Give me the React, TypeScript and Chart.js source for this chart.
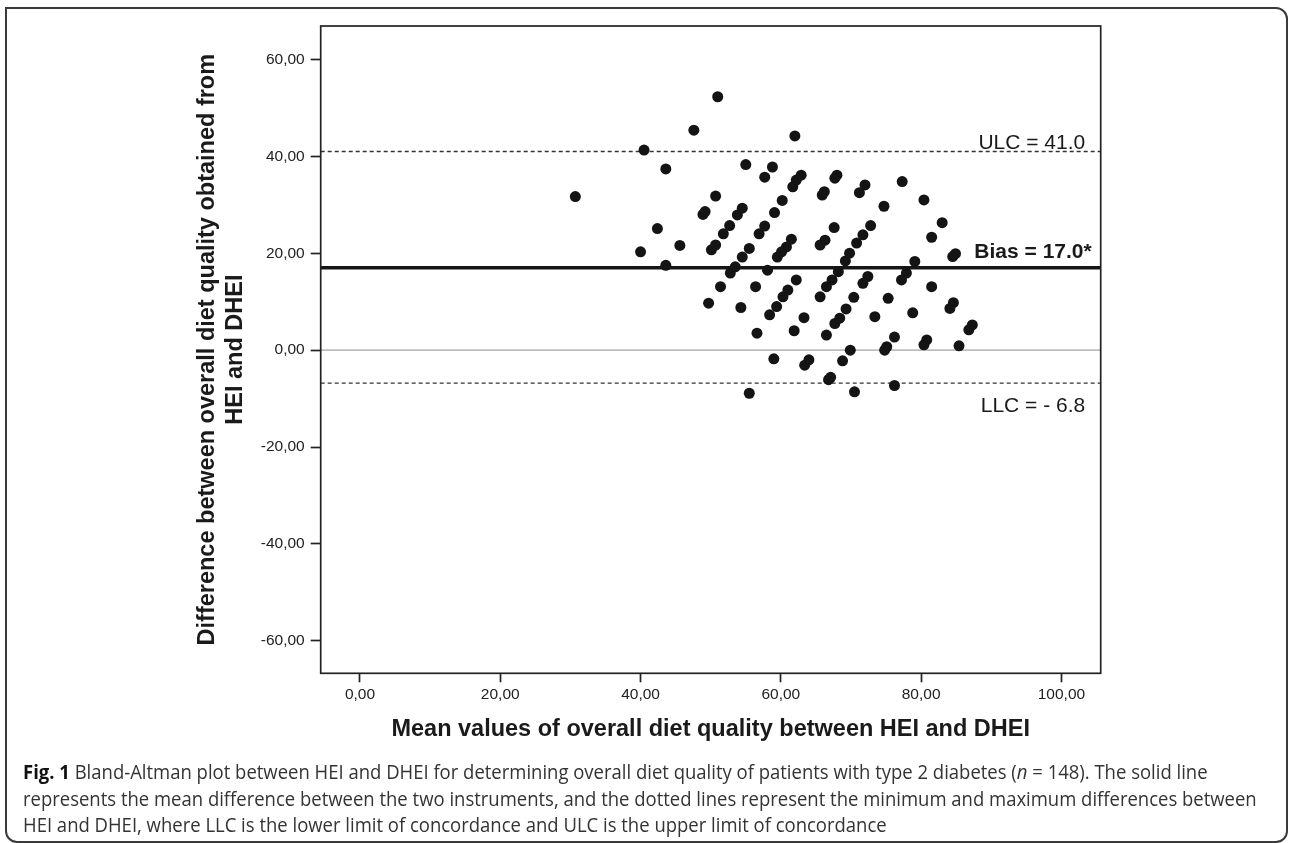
import React, { useEffect, useLayoutEffect, useRef } from "react";
import { Chart, registerables } from "chart.js";

Chart.register(...registerables);

// ---- Data ----
const meanValues: number[] = [
  30.7, 40.5, 51.0, 47.6, 43.6, 55.0, 58.8, 57.7, 50.7, 48.9,
  49.2, 42.4, 40.0, 45.6, 43.6, 50.1, 50.7, 51.8, 52.7, 53.8,
  54.5, 55.5, 56.9, 57.7, 59.1, 60.2, 52.8, 53.5, 54.5, 58.1,
  59.5, 60.1, 60.8, 61.5, 62.0, 62.9, 62.2, 61.7, 68.0, 67.7,
  65.9, 66.2, 72.0, 71.2, 77.3, 74.7, 80.4, 83.0, 81.5, 84.5,
  84.9, 79.1, 72.8, 71.7, 70.8, 69.8, 69.2, 67.6, 66.3, 65.6,
  51.4, 56.4, 49.7, 54.3, 60.3, 59.4, 58.4, 56.6, 59.0, 55.5,
  62.2, 61.0, 63.3, 61.9, 63.4, 64.0, 68.2, 67.3, 66.5, 65.6,
  70.4, 69.3, 68.4, 67.7, 66.5, 69.9, 68.8, 66.8, 67.1, 70.5,
  72.4, 71.7, 73.4, 75.3, 77.9, 77.2, 78.8, 81.5, 84.6, 84.1,
  87.3, 86.8, 76.2, 75.1, 74.8, 80.8, 80.4, 85.4, 76.2,
];
const differences: number[] = [
  31.7, 41.3, 52.3, 45.4, 37.4, 38.3, 37.8, 35.7, 31.8, 28.0,
  28.6, 25.1, 20.3, 21.6, 17.5, 20.7, 21.7, 24.0, 25.7, 27.9,
  29.3, 21.0, 24.0, 25.6, 28.4, 30.9, 15.9, 17.2, 19.2, 16.5,
  19.2, 20.3, 21.3, 22.9, 44.2, 36.1, 35.1, 33.7, 36.1, 35.5,
  32.0, 32.7, 34.1, 32.5, 34.8, 29.7, 31.0, 26.3, 23.3, 19.3,
  19.9, 18.3, 25.7, 23.8, 22.1, 20.0, 18.4, 25.3, 22.7, 21.7,
  13.1, 13.1, 9.7, 8.8, 11.0, 9.0, 7.3, 3.5, -1.8, -8.9,
  14.5, 12.4, 6.7, 4.0, -3.1, -2.0, 16.2, 14.5, 13.1, 11.0,
  10.9, 8.5, 6.6, 5.5, 3.1, 0.0, -2.2, -6.1, -5.6, -8.6,
  15.2, 13.8, 6.9, 10.7, 15.9, 14.5, 7.7, 13.1, 9.8, 8.6,
  5.2, 4.2, 2.7, 0.7, 0.0, 2.1, 1.1, 0.9, -7.3,
];

const xTickValues: number[] = [0, 20, 40, 60, 80, 100];
const yTickValues: number[] = [-60, -40, -20, 0, 20, 40, 60];

const biasValue = 17.0;
const ulcValue = 41.0;
const llcValue = -6.8;
const zeroValue = 0;

const biasLabel = "Bias = 17.0*";
const ulcLabel = "ULC = 41.0";
const llcLabel = "LLC = - 6.8";

const xAxisTitle = "Mean values of overall diet quality between HEI and DHEI";
const yAxisTitle: string[] = [
  "Difference between overall diet quality obtained from",
  "HEI and DHEI",
];

const captionLines: string[] = [
  "Bland-Altman plot between HEI and DHEI for determining overall diet quality of patients with type 2 diabetes (",
  "represents the mean difference between the two instruments, and the dotted lines represent the minimum and maximum differences between",
  "HEI and DHEI, where LLC is the lower limit of concordance and ULC is the upper limit of concordance",
];

const FONT = "'Liberation Sans', Arial, Helvetica, sans-serif";

const fmt = (v: number) => v.toFixed(2).replace(".", ",");

const refPlugin = {
  id: "refLines",
  beforeDatasetsDraw(chart: any) {
    const { ctx, chartArea, scales } = chart;
    const { left, right } = chartArea;
    const y = scales.y;
    const drawH = (val: number, color: string, width: number, dash: number[]) => {
      const py = y.getPixelForValue(val);
      ctx.save();
      ctx.strokeStyle = color;
      ctx.lineWidth = width;
      ctx.setLineDash(dash);
      ctx.beginPath();
      ctx.moveTo(left, py);
      ctx.lineTo(right, py);
      ctx.stroke();
      ctx.restore();
    };
    drawH(zeroValue, "#bdbdbd", 1.6, []);
    drawH(ulcValue, "#333333", 1.3, [4, 3]);
    drawH(llcValue, "#333333", 1.3, [4, 3]);
    drawH(biasValue, "#161616", 3.3, []);
  },
  afterDatasetsDraw(chart: any) {
    const { ctx, chartArea, scales } = chart;
    const { left, right, top, bottom } = chartArea;
    const y = scales.y;
    ctx.save();
    ctx.fillStyle = "#1a1a1a";
    ctx.textAlign = "right";
    ctx.textBaseline = "alphabetic";
    ctx.font = `21px ${FONT}`;
    ctx.fillText(ulcLabel, right - 15.5, y.getPixelForValue(ulcValue) - 2.5);
    ctx.fillText(llcLabel, right - 15.5, y.getPixelForValue(llcValue) + 29);
    ctx.font = `bold 21px ${FONT}`;
    ctx.fillText(biasLabel, right - 9, y.getPixelForValue(biasValue) - 10);
    // plot frame
    ctx.strokeStyle = "#222222";
    ctx.lineWidth = 1.7;
    ctx.strokeRect(left, top, right - left, bottom - top);
    ctx.restore();
  },
};

function ChartCanvas() {
  const ref = useRef<HTMLCanvasElement | null>(null);
  useEffect(() => {
    if (!ref.current) return;
    const points = meanValues.map((m, i) => ({ x: m, y: differences[i] }));
    const chart = new Chart(ref.current, {
      type: "scatter",
      data: {
        datasets: [
          {
            data: points,
            backgroundColor: "#141414",
            borderWidth: 0,
            pointRadius: 5.5,
            pointHoverRadius: 5.5,
          },
        ],
      },
      options: {
        responsive: false,
        animation: false,
        events: [],
        layout: { padding: { left: 190, top: 26, right: 191.3, bottom: 0 } },
        plugins: {
          legend: { display: false },
          tooltip: { enabled: false },
        },
        scales: {
          x: {
            type: "linear",
            min: -5.6,
            max: 105.6,
            afterBuildTicks: (scale: any) => {
              scale.ticks = xTickValues.map((v) => ({ value: v }));
            },
            afterFit: (scale: any) => {
              scale.height = 86.7;
            },
            border: { display: false },
            grid: {
              drawOnChartArea: false,
              drawTicks: true,
              tickLength: 9,
              tickWidth: 1.7,
              tickColor: "#222222",
              color: "#222222",
            },
            ticks: {
              padding: 3,
              color: "#222222",
              font: { family: FONT, size: 15.5 },
              maxRotation: 0,
              callback: (v: any) => fmt(Number(v)),
            },
            title: {
              display: true,
              text: xAxisTitle,
              color: "#1a1a1a",
              font: { family: FONT, size: 23.5, weight: "bold", lineHeight: 1.2 },
              padding: { top: 0, bottom: 15.9 },
            },
          },
          y: {
            type: "linear",
            min: -66.7,
            max: 66.9,
            afterBuildTicks: (scale: any) => {
              scale.ticks = yTickValues.map((v) => ({ value: v }));
            },
            afterFit: (scale: any) => {
              scale.width = 130.7;
            },
            border: { display: false },
            grid: {
              drawOnChartArea: false,
              drawTicks: true,
              tickLength: 10,
              tickWidth: 1.7,
              tickColor: "#222222",
              color: "#222222",
            },
            ticks: {
              padding: 6,
              color: "#222222",
              font: { family: FONT, size: 15.5 },
              callback: (v: any) => fmt(Number(v)),
            },
            title: {
              display: true,
              text: yAxisTitle,
              color: "#1a1a1a",
              font: { family: FONT, size: 23.5, weight: "bold", lineHeight: 1.2 },
              padding: { top: 3, bottom: 0 },
            },
          },
        },
      },
      plugins: [refPlugin],
    } as any);
    return () => chart.destroy();
  }, []);
  return (
    <canvas
      ref={ref}
      width={1292}
      height={760}
      style={{ position: "absolute", left: 0, top: 0, width: 1292, height: 760 }}
    />
  );
}

// width that the second (longest) caption line spans in the reference
const captionRefWidth = 1234;

function Caption() {
  const r0 = useRef<HTMLDivElement | null>(null);
  const r1 = useRef<HTMLDivElement | null>(null);
  const r2 = useRef<HTMLDivElement | null>(null);
  useLayoutEffect(() => {
    const els = [r0.current, r1.current, r2.current];
    els.forEach((el) => el && (el.style.transform = "none"));
    const w = r1.current ? r1.current.scrollWidth : 0;
    if (w > 0) {
      const s = captionRefWidth / w;
      els.forEach((el) => el && (el.style.transform = `scaleX(${s})`));
    }
  });
  const lineStyle: React.CSSProperties = {
    position: "absolute",
    left: 22.7,
    whiteSpace: "nowrap",
    transformOrigin: "0 50%",
    fontFamily: "'Open Sans', 'DejaVu Sans', sans-serif",
    fontSize: 19.5,
    lineHeight: "26px",
    color: "#333333",
    display: "inline-block",
  };
  return (
    <>
      <div ref={r0} style={{ ...lineStyle, top: 758.7 }}>
        <b style={{ color: "#111" }}>Fig. 1</b> {captionLines[0]}
        <i>n</i> = 148). The solid line
      </div>
      <div ref={r1} style={{ ...lineStyle, top: 786.3 }}>
        {captionLines[1]}
      </div>
      <div ref={r2} style={{ ...lineStyle, top: 812 }}>
        {captionLines[2]}
      </div>
    </>
  );
}

export default function App() {
  return (
    <div
      style={{
        position: "absolute",
        left: 0,
        top: 0,
        width: 1292,
        height: 843,
        background: "#ffffff",
        overflow: "hidden",
      }}
    >
      <div
        style={{
          position: "absolute",
          left: 5,
          top: 7,
          width: 1283,
          height: 836,
          border: "2px solid #3a3a3a",
          borderRadius: "0 12px 12px 12px",
          boxSizing: "border-box",
        }}
      />
      <ChartCanvas />
      <Caption />
    </div>
  );
}
